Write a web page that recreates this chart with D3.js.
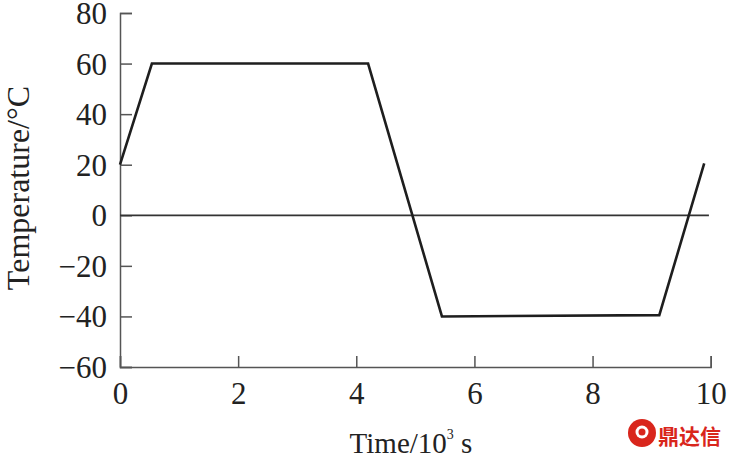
<!DOCTYPE html>
<html>
<head>
<meta charset="utf-8">
<script src="https://cdn.jsdelivr.net/npm/d3@7"></script>
<style>
  html, body { margin: 0; padding: 0; background: #fff; }
  svg { display: block; }
  text { font-family: "Liberation Serif", "Times New Roman", serif; fill: #222; }
</style>
</head>
<body>
<svg id="chart" width="730" height="458"></svg>
<script>
// Data
const timeValues = [0, 0.54, 4.2, 5.45, 9.13, 9.89];      // 10^3 s
const tempValues = [20, 60, 60, -40, -39.5, 20.5];       // °C
const zeroLineX = [0, 9.97];
const xTicks = [0, 2, 4, 6, 8, 10];
const yTicks = [-60, -40, -20, 0, 20, 40, 60, 80];
const xLabel = "Time/10";
const yLabel = "Temperature/°C";
const watermark = "鼎达信";

const svg = d3.select("#chart");
const margin = { left: 120, top: 13, right: 19.3, bottom: 91 };
const W = 730, H = 458;

const x = d3.scaleLinear().domain([0, 10]).range([margin.left, W - margin.right]);
const y = d3.scaleLinear().domain([-60, 80]).range([H - margin.bottom, margin.top]);

const fontSize = 31;
const axisColor = "#555";

// Y axis
const yAxis = svg.append("g")
  .attr("transform", `translate(${x(0)},0)`)
  .call(d3.axisLeft(y).tickValues(yTicks).tickSize(-12).tickPadding(13)
    .tickFormat(d => d < 0 ? "\u2212" + Math.abs(d) : String(d)));
yAxis.select(".domain").attr("stroke", axisColor).attr("stroke-width", 1.5);
yAxis.selectAll(".tick line").attr("stroke", axisColor).attr("stroke-width", 1.5);
yAxis.selectAll(".tick text").attr("font-size", fontSize)
  .attr("font-family", "Liberation Serif").attr("fill", "#222").attr("dy", "0.34em");

// X axis
const xAxis = svg.append("g")
  .attr("transform", `translate(0,${y(-60)})`)
  .call(d3.axisBottom(x).tickValues(xTicks).tickSize(-11).tickPadding(15)
    .tickFormat(d => String(d)));
xAxis.select(".domain").attr("stroke", axisColor).attr("stroke-width", 1.5);
xAxis.selectAll(".tick line").attr("stroke", axisColor).attr("stroke-width", 1.5);
xAxis.selectAll(".tick text").attr("font-size", fontSize)
  .attr("font-family", "Liberation Serif").attr("fill", "#222");

// Zero line
svg.append("line")
  .attr("x1", x(zeroLineX[0])).attr("x2", x(zeroLineX[1]))
  .attr("y1", y(0)).attr("y2", y(0))
  .attr("stroke", "#333").attr("stroke-width", 1.8);

// Temperature profile
const pts = timeValues.map((t, i) => [t, tempValues[i]]);
svg.append("path")
  .datum(pts)
  .attr("fill", "none")
  .attr("stroke", "#1e1e1e")
  .attr("stroke-width", 2.6)
  .attr("stroke-linejoin", "miter")
  .attr("d", d3.line().x(d => x(d[0])).y(d => y(d[1])));

// Y label
svg.append("text")
  .attr("transform", `translate(29,188) rotate(-90)`)
  .attr("text-anchor", "middle")
  .attr("font-size", 32)
  .text(yLabel);

// X label
const xl = svg.append("text")
  .attr("x", 411).attr("y", 453)
  .attr("text-anchor", "middle")
  .attr("font-size", 29);
xl.append("tspan").text(xLabel);
xl.append("tspan").attr("font-size", 14).attr("dy", -14).text("3");
xl.append("tspan").attr("dy", 14).text(" s");

// Watermark
const wm = svg.append("g").attr("transform", "translate(642,433)");
wm.append("circle").attr("r", 14).attr("fill", "#d9261c");
wm.append("circle").attr("r", 6.5).attr("cy", -1).attr("fill", "#fff");
wm.append("circle").attr("r", 3.5).attr("cy", -1).attr("fill", "#d9261c");
svg.append("text")
  .attr("x", 658).attr("y", 444)
  .attr("font-weight", "bold")
  .attr("font-size", 21)
  .style("font-family", "'Noto Sans CJK SC'")
  .style("fill", "#d9261c")
  .text(watermark);
</script>
</body>
</html>
